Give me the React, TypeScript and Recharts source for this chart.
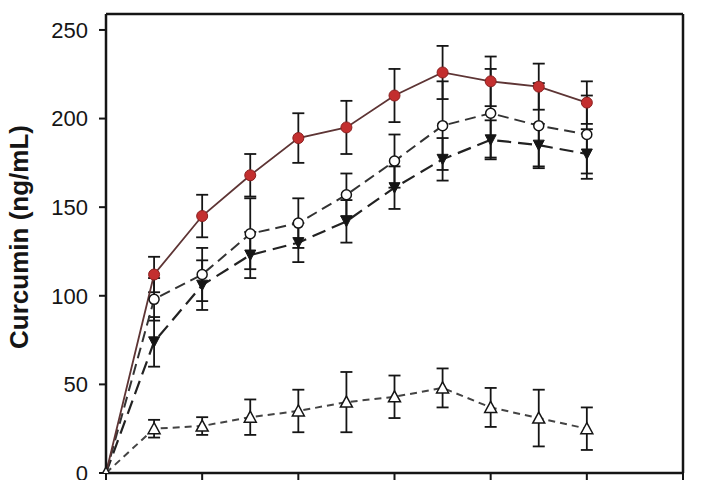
import { LineChart, Line, XAxis, YAxis, ErrorBar, ReferenceLine } from 'recharts';

// sampling times (x axis units; tick labels are cropped off in the source)
const TIMES = [0, 1, 2, 3, 4, 5, 6, 7, 8, 9, 10];
const X_TICKS = [0, 2, 4, 6, 8, 10, 12];
const Y_TICKS = [0, 50, 100, 150, 200, 250];
const X_MAX = 12;
const Y_MAX = 259;

// red filled circles (solid line)
const RED_MEAN = [0, 112, 145, 168, 189, 195, 213, 226, 221, 218, 209];
const RED_ERR = [0, 10, 12, 12, 14, 15, 15, 15, 14, 13, 12];

// open circles (long dash)
const OPEN_CIRCLE_MEAN = [0, 98, 112, 135, 141, 157, 176, 196, 203, 196, 191];
const OPEN_CIRCLE_ERR = [0, 12, 15, 20, 14, 12, 15, 25, 25, 24, 22];

// filled inverted triangles (longer dash)
const FILLED_TRI_MEAN = [0, 74, 106, 123, 130, 142, 161, 177, 188, 185, 180];
const FILLED_TRI_ERR = [0, 14, 14, 13, 11, 12, 12, 12, 11, 12, 14];

// open triangles (short dash)
const OPEN_TRI_MEAN = [0, 25, 26.5, 31.5, 35, 40, 43, 48, 37, 31, 25];
const OPEN_TRI_ERR = [0, 5, 5, 10, 12, 17, 12, 11, 11, 16, 12];

const data = TIMES.map((t, i) => ({
  t,
  red: RED_MEAN[i],
  redErr: RED_ERR[i],
  oc: OPEN_CIRCLE_MEAN[i],
  ocErr: OPEN_CIRCLE_ERR[i],
  ft: FILLED_TRI_MEAN[i],
  ftErr: FILLED_TRI_ERR[i],
  ot: OPEN_TRI_MEAN[i],
  otErr: OPEN_TRI_ERR[i],
}));

const FONT = '"Liberation Sans", Arial, sans-serif';
const INK = '#151515';

function RedDot(props: any) {
  const { cx, cy, index } = props;
  if (index === 0 || cx == null) return <g key={`r${index}`} />;
  return <circle key={`r${index}`} cx={cx} cy={cy} r={5.5} fill="#c32f2f" stroke="#8a1f1f" strokeWidth={1} />;
}

function OpenCircleDot(props: any) {
  const { cx, cy, index } = props;
  if (index === 0 || cx == null) return <g key={`oc${index}`} />;
  return <circle key={`oc${index}`} cx={cx} cy={cy} r={5} fill="#fff" stroke={INK} strokeWidth={1.5} />;
}

function FilledTriDot(props: any) {
  const { cx, cy, index } = props;
  if (index === 0 || cx == null) return <g key={`ft${index}`} />;
  return (
    <path
      key={`ft${index}`}
      d={`M${cx - 5.5},${cy - 5} L${cx + 5.5},${cy - 5} L${cx},${cy + 5.5} Z`}
      fill={INK}
      stroke={INK}
      strokeWidth={1}
    />
  );
}

function OpenTriDot(props: any) {
  const { cx, cy, index } = props;
  if (cx == null) return <g key={`ot${index}`} />;
  return (
    <path
      key={`ot${index}`}
      d={`M${cx},${cy - 6} L${cx + 6},${cy + 5} L${cx - 6},${cy + 5} Z`}
      fill="#fff"
      stroke={INK}
      strokeWidth={1.5}
    />
  );
}

// x tick labels sit below the cropped edge of the source image
function HiddenTick() {
  return <g />;
}

function YLabel(props: any) {
  const vb = props.viewBox || { x: 10, y: 14, height: 459 };
  return (
    <text
      transform={`translate(${vb.x + 18}, 237) rotate(-90)`}
      textAnchor="middle"
      fontFamily={FONT}
      fontWeight="bold"
      fontSize={26}
      fill={INK}
    >
      Curcumin (ng/mL)
    </text>
  );
}

export default function App() {
  return (
    <div style={{ position: 'absolute', left: 0, top: 0, width: 720, height: 480, background: '#fff' }}>
      <LineChart width={720} height={480} data={data} margin={{ top: 14, right: 37, bottom: 0, left: 10 }}>
        <XAxis
          type="number"
          dataKey="t"
          domain={[0, X_MAX]}
          ticks={X_TICKS}
          interval={0}
          height={7}
          tick={<HiddenTick />}
          tickSize={7}
          axisLine={{ stroke: INK, strokeWidth: 2.5 }}
          tickLine={{ stroke: INK, strokeWidth: 2 }}
        />
        <YAxis
          type="number"
          domain={[0, Y_MAX]}
          ticks={Y_TICKS}
          interval={0}
          allowDataOverflow
          width={96}
          tickSize={7}
          tickMargin={11}
          tick={{ fontSize: 22, fill: INK, fontFamily: FONT }}
          axisLine={{ stroke: INK, strokeWidth: 2.5 }}
          tickLine={{ stroke: INK, strokeWidth: 2 }}
          label={<YLabel />}
        />
        <ReferenceLine y={Y_MAX} stroke={INK} strokeWidth={2.5} />
        <ReferenceLine x={X_MAX} stroke={INK} strokeWidth={2.5} />

        <Line
          dataKey="ft"
          stroke="#222"
          strokeWidth={2.2}
          strokeDasharray="14 7"
          dot={FilledTriDot}
          isAnimationActive={false}
        >
          <ErrorBar dataKey="ftErr" direction="y" width={6} stroke={INK} strokeWidth={1.8} />
        </Line>
        <Line
          dataKey="oc"
          stroke="#333"
          strokeWidth={2}
          strokeDasharray="11 6"
          dot={OpenCircleDot}
          isAnimationActive={false}
        >
          <ErrorBar dataKey="ocErr" direction="y" width={6} stroke={INK} strokeWidth={1.8} />
        </Line>
        <Line
          dataKey="red"
          stroke="#5e3535"
          strokeWidth={1.8}
          dot={RedDot}
          isAnimationActive={false}
        >
          <ErrorBar dataKey="redErr" direction="y" width={6} stroke={INK} strokeWidth={1.8} />
        </Line>
        <Line
          dataKey="ot"
          stroke="#444"
          strokeWidth={2}
          strokeDasharray="7 5"
          dot={OpenTriDot}
          isAnimationActive={false}
        >
          <ErrorBar dataKey="otErr" direction="y" width={6} stroke={INK} strokeWidth={1.8} />
        </Line>
      </LineChart>
    </div>
  );
}
